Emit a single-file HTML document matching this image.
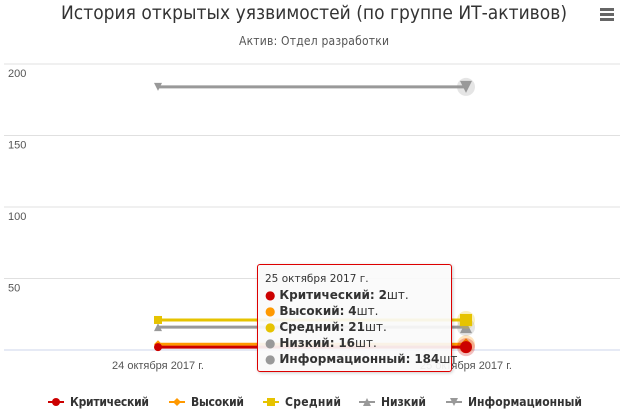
<!DOCTYPE html>
<html><head><meta charset="utf-8"><style>
body{margin:0;background:#fff;font-family:"Liberation Sans","DejaVu Sans",sans-serif}
#c{position:relative;width:628px;height:419px;overflow:hidden}
.tt{position:absolute;left:257px;top:264px;width:193px;height:106px;border:1px solid #d00;border-radius:3px;background:rgba(250,250,250,0.92);box-shadow:1px 1px 3px rgba(0,0,0,.2);font-size:12px;color:#333;font-family:"DejaVu Sans",sans-serif}
.tt div{position:absolute;left:7px;white-space:nowrap}
</style></head><body>
<div id="c">
<svg id="s" width="628" height="419">
<text x="314" y="19" text-anchor="middle" font-size="19" fill="#333" textLength="506" font-family="DejaVu Sans Condensed, DejaVu Sans, sans-serif">История открытых уязвимостей (по группе ИТ-активов)</text>
<text x="314" y="45" text-anchor="middle" font-size="12" fill="#555" textLength="150" font-family="DejaVu Sans Condensed, DejaVu Sans, sans-serif">Актив: Отдел разработки</text>
<g fill="#666"><rect x="600" y="8" width="14" height="3"/><rect x="600" y="13" width="14" height="3"/><rect x="600" y="18" width="14" height="3"/></g>
<g id="grid"></g><g id="series"></g><g id="legend"></g>
</svg>
<div class="tt">
<div style="top:8px;font-size:10.5px">25 октября 2017 г.</div>
<div style="top:23px"><span style="color:#c00">●</span> <b>Критический:</b> <b>2</b>шт.</div>
<div style="top:39px"><span style="color:#f90">●</span> <b>Высокий:</b> <b>4</b>шт.</div>
<div style="top:55px"><span style="color:#e6c300">●</span> <b>Средний:</b> <b>21</b>шт.</div>
<div style="top:71px"><span style="color:#999">●</span> <b>Низкий:</b> <b>16</b>шт.</div>
<div style="top:87px"><span style="color:#999">●</span> <b>Информационный:</b> <b>184</b>шт.</div>
</div>
</div>
<script>
const categories=["24 октября 2017 г.","25 октября 2017 г."];
const seriesNames=["Критический","Высокий","Средний","Низкий","Информационный"];
const critical=[2,2];
const high=[4,4];
const medium=[21,21];
const low=[16,16];
const info=[184,184];
const yTicks=[0,50,100,150,200];
const NS="http://www.w3.org/2000/svg";
const y=v=>350-v*1.43;
const x=i=>158+i*308;
function mk(t,a,p){const e=document.createElementNS(NS,t);for(const k in a)e.setAttribute(k,a[k]);p.appendChild(e);return e;}
const grid=document.getElementById('grid');
yTicks.forEach(t=>{
 const l=mk('line',{x1:4,x2:620,y1:y(t),y2:y(t),stroke:t===0?'#ccd6eb':'#e0e0e0'},grid);
 
 
 if(t>0){const tx=mk('text',{x:8,y:y(t)+13,'font-size':11,fill:'#555'},grid);tx.textContent=t;
 
 }
});
categories.forEach((c,i)=>{const tx=mk('text',{x:x(i),y:369,'text-anchor':'middle','font-size':11,fill:'#555'},grid);tx.textContent=c;
 
 });
const colors=['#cc0000','#ff9900','#e6c300','#999999','#999999'];
const data=[critical,high,medium,low,info];
const sym=['circle','diamond','square','tri','tridown'];
function marker(s,cx,cy,r,fill,p){
 if(s==='circle')return mk('circle',{cx,cy,r,fill},p);
 if(s==='diamond')return mk('path',{d:`M${cx} ${cy-r}L${cx+r} ${cy}L${cx} ${cy+r}L${cx-r} ${cy}Z`,fill},p);
 if(s==='square')return mk('rect',{x:cx-r,y:cy-r,width:2*r,height:2*r,fill},p);
 if(s==='tri')return mk('path',{d:`M${cx} ${cy-r}L${cx+r} ${cy+r}L${cx-r} ${cy+r}Z`,fill},p);
 return mk('path',{d:`M${cx-r} ${cy-r}L${cx+r} ${cy-r}L${cx} ${cy+r}Z`,fill},p);
}
const sg=document.getElementById('series');
[4,3,2,1,0].forEach(k=>{
 const g=mk('g',{},sg);
 
 
 const pts=data[k].map((v,i)=>x(i)+','+y(v)).join(' ');
 mk('polyline',{points:pts,fill:'none',stroke:colors[k],'stroke-width':3},g);
 data[k].forEach((v,i)=>{
  if(i===1)mk('circle',{cx:x(i),cy:y(v),r:9,fill:colors[k],opacity:0.25},g);
  const m=marker(sym[k],x(i),y(v),i===1?6:4,colors[k],g);
  
  
 });
});
const lg=document.getElementById('legend');
const lx=[48,169,263,359,446];
const lw=[79,53,56,45,114];
seriesNames.forEach((n,k)=>{
 const g=mk('g',{},lg);
 
 
 const bx=lx[k];
 mk('line',{x1:bx,x2:bx+16,y1:402,y2:402,stroke:colors[k],'stroke-width':2},g);
 marker(sym[k],bx+8,402,4,colors[k],g);
 const t=mk('text',{x:bx+22,y:406,'font-size':12,'font-weight':'bold',fill:'#333',textLength:lw[k],'font-family':'DejaVu Sans Condensed, DejaVu Sans, sans-serif'},g);t.textContent=n;
});
</script>
</body></html>
